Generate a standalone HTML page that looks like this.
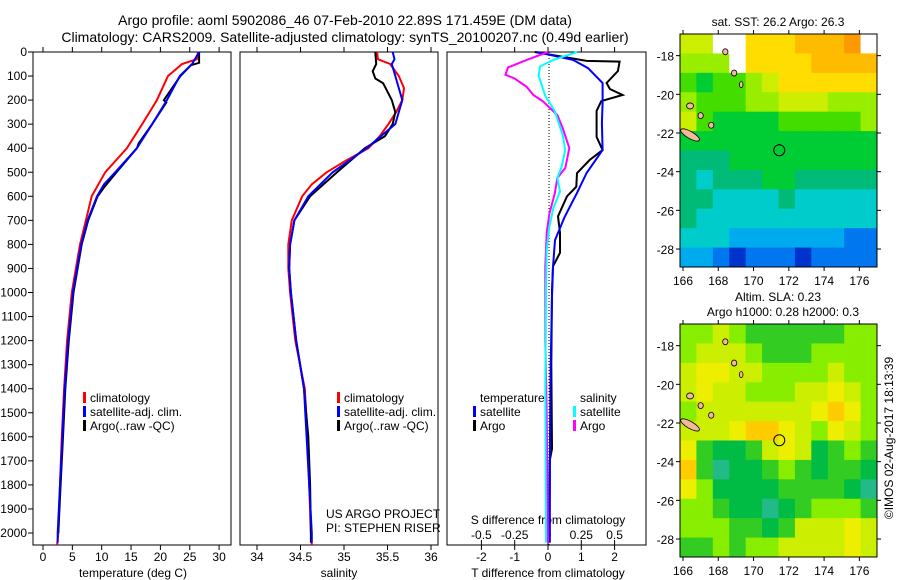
<!DOCTYPE html>
<html><head><meta charset="utf-8"><style>
body{margin:0;background:#fff;}
svg{display:block;font-family:"Liberation Sans",sans-serif;}
text{fill:#000;}
</style></head><body>
<svg id="chart" width="900" height="580" viewBox="0 0 900 580" xmlns="http://www.w3.org/2000/svg">
<text x="345" y="25" font-size="14" text-anchor="middle">Argo profile: aoml 5902086_46 07-Feb-2010 22.89S 171.459E (DM data)</text>
<text x="345" y="42" font-size="14" text-anchor="middle">Climatology: CARS2009. Satellite-adjusted climatology: synTS_20100207.nc (0.49d earlier)</text>
<g id="g"></g>
</svg>
<script>
// ---- data ----
const depthTicks=[0,100,200,300,400,500,600,700,800,900,1000,1100,1200,1300,1400,1500,1600,1700,1800,1900,2000];
const tempTicks=[0,5,10,15,20,25,30];
const salTicks=[34,34.5,35,35.5,36];
const tdTicks=[-2,-1,0,1,2];
const sdTicks=[-0.5,-0.25,0,0.25,0.5];
const sdTickLabels=["-0.5","-0.25","0","0.25","0.5"];

const tClimDepth=[0,30,50,100,200,300,400,500,600,700,800,900,1000,1200,1400,1600,1800,2000,2050];
const tClim=[26.4,26.2,23.7,21.3,19.4,16.9,14.3,10.6,8.3,7.3,6.3,5.6,4.9,4.1,3.6,3.2,2.9,2.6,2.4];
const tSatDepth=[0,50,100,200,300,400,500,550,600,700,800,900,1000,1200,1400,1600,1800,2000,2040];
const tSat=[26.6,25.4,23.3,21.1,18.6,16.0,12.3,10.4,9.2,7.6,6.5,5.8,5.1,4.3,3.7,3.3,2.9,2.5,2.5];
const tArgoDepth=[0,45,55,100,150,200,210,300,380,400,500,560,600,700,800,900,1000,1200,1400,1600,1800,2000];
const tArgo=[26.6,26.6,25.2,23.4,22.0,20.6,21.0,18.6,16.3,16.0,12.5,10.5,9.3,7.7,6.6,5.9,5.2,4.4,3.8,3.4,3.0,2.6];

const sClimDepth=[0,30,50,100,150,200,250,300,350,400,450,500,550,600,700,800,900,1000,1200,1400,1600,1800,2000,2050];
const sClim=[35.38,35.39,35.53,35.63,35.69,35.67,35.60,35.51,35.41,35.28,35.03,34.80,34.63,34.52,34.40,34.36,34.36,34.38,34.44,34.55,34.58,34.60,34.62,34.63];
const sSatDepth=[0,30,50,100,200,300,400,500,600,700,800,900,1000,1200,1400,1600,1800,2000,2040];
const sSat=[35.56,35.58,35.55,35.59,35.67,35.59,35.26,34.87,34.59,34.43,34.38,34.37,34.39,34.45,34.54,34.57,34.60,34.63,34.63];
const sArgoDepth=[0,50,80,110,130,200,250,300,350,400,500,600,700,800,900,1000,1200,1400,1600,1800,2000,2040];
const sArgo=[35.36,35.37,35.33,35.36,35.45,35.55,35.59,35.56,35.47,35.24,34.92,34.61,34.43,34.38,34.37,34.39,34.45,34.54,34.59,34.61,34.62,34.62];

const tdSatDepth=[0,33,67,129,212,295,407,503,586,686,782,893,1019,1300,1600,2040];
const tdSat=[-0.33,0.75,1.2,1.64,1.64,1.62,1.64,1.16,0.87,0.5,0.21,0.15,0.12,0.08,0.06,0.05];
const tdArgoDepth=[0,37,40,79,129,154,179,204,245,300,353,408,449,504,560,600,683,752,835,891,988,1300,1650,1700,2040];
const tdArgo=[-0.4,1.16,2.15,2.1,1.76,1.86,2.24,1.6,1.46,1.46,1.46,1.64,1.25,0.87,0.85,0.57,0.3,0.36,0.36,0.15,0.12,0.1,0.12,0.05,0.05];
const sdSatDepth=[0,33,60,100,183,245,345,408,482,524,580,650,727,823,988,1400,2040];
const sdSat=[0.22,0.04,-0.06,-0.07,-0.02,0.05,0.11,0.13,0.10,0.07,0.09,0.04,0.01,-0.01,-0.015,-0.02,-0.015];
const sdArgoDepth=[0,33,64,95,110,145,179,204,262,316,399,482,524,590,673,752,891,1200,1500,2040];
const sdArgo=[0,-0.16,-0.30,-0.32,-0.25,-0.16,-0.11,-0.04,0.07,0.11,0.16,0.13,0.07,0.05,0.01,-0.01,-0.02,-0.02,-0.01,0.0];

const sstGrid=[
[8,8,-1,-1,9,9,9,10,10,10,11,-1],
[7,7,7,-1,9,9,9,9,10,10,10,10],
[6,5,6,6,7,8,9,9,9,9,9,9],
[7,6,6,6,7,7,8,8,8,7,7,7],
[8,6,5,5,5,5,6,6,6,6,6,7],
[5,5,5,5,5,5,5,5,5,5,5,5],
[4,4,4,5,5,5,5,5,5,5,5,5],
[4,3,4,4,4,5,5,4,4,4,4,4],
[4,4,3,3,3,3,4,3,3,3,3,3],
[4,3,3,3,3,3,3,3,3,3,3,3],
[3,3,3,2,2,2,2,2,2,2,1,1],
[2,2,1,0,1,1,1,0,1,1,1,1]];
const slaGrid=[
[3,3,4,3,2,2,2,2,2,2,3,3],
[3,4,4,4,3,2,2,2,3,3,3,3],
[4,5,5,4,4,3,3,3,3,4,3,3],
[4,5,4,4,3,3,3,4,4,5,4,3],
[3,4,4,4,4,4,4,4,5,6,5,3],
[4,4,4,5,6,6,5,4,3,5,4,3],
[5,2,1,1,2,4,5,4,1,2,3,2],
[6,2,0,1,1,2,3,2,1,2,2,1],
[5,3,1,1,1,1,2,2,2,2,1,0],
[3,3,2,1,1,0,1,2,3,3,3,2],
[3,3,3,2,2,1,2,4,4,4,5,4],
[2,2,3,2,3,3,4,4,4,4,5,4]];
const lonTicks=[166,168,170,172,174,176];
const latTicks=[-18,-20,-22,-24,-26,-28];
const islandLon=[166.4,167.0,167.6,168.4,168.9,169.3,166.4];
const islandLat=[-20.6,-21.1,-21.6,-17.8,-18.9,-19.5,-22.1];
const islandRx=[0.2,0.15,0.15,0.15,0.15,0.1,0.6];
const argoLon=171.459, argoLat=-22.89;

// ---- drawing ----
const NS='http://www.w3.org/2000/svg';
const G=document.getElementById('g');
function el(tag,attrs,parent){const e=document.createElementNS(NS,tag);for(const k in attrs)e.setAttribute(k,attrs[k]);(parent||G).appendChild(e);return e;}
function txt(x,y,s,size,anchor,parent){const t=el('text',{x:x,y:y,'font-size':size||12,'text-anchor':anchor||'middle'},parent);t.textContent=s;return t;}
const TOP=52,BOT=545;
const dy=d=>TOP+d*0.2405;
function xs(lo,px0,scale){return v=>px0+(v-lo)*scale;}
const xT=xs(0,43,5.87), xS=xs(34,257,87), xTD=xs(0,548,33.3), xSD=xs(0,548,133.2);

function line(depths,vals,fx,color,w,name,parent){
  const pts=depths.map((d,i)=>fx(vals[i]).toFixed(1)+','+dy(d).toFixed(1)).join(' ');
  const p=el('polyline',{points:pts,fill:'none',stroke:color,'stroke-width':w},parent);
  
  
}
function panel(x0,x1,name){
  const g=el('g',{});
  
  
  el('rect',{x:x0,y:TOP,width:x1-x0,height:BOT-TOP,fill:'none',stroke:'#000','stroke-width':1},g);
  return g;
}
const p1=panel(33,231,'temperature-panel');
depthTicks.forEach(d=>{el('line',{x1:28,x2:33,y1:dy(d),y2:dy(d),stroke:'#000'},p1);const t=txt(27,dy(d)+4,String(d),12,'end',p1);});
tempTicks.forEach(v=>{el('line',{x1:xT(v),x2:xT(v),y1:BOT,y2:BOT+5,stroke:'#000'},p1);el('line',{x1:xT(v),x2:xT(v),y1:TOP,y2:TOP-5,stroke:'#000'},p1);txt(xT(v),561,String(v),12,'middle',p1);});
const xl1=txt(133,577,'temperature (deg C)',12,'middle',p1);
line(tClimDepth,tClim,xT,'#ff0000',2,'temp-climatology-line',p1);
line(tArgoDepth,tArgo,xT,'#000000',2,'temp-argo-line',p1);
line(tSatDepth,tSat,xT,'#0000ff',2,'temp-satellite-line',p1);
const p2=panel(240,438,'salinity-panel');
salTicks.forEach(v=>{el('line',{x1:xS(v),x2:xS(v),y1:BOT,y2:BOT+5,stroke:'#000'},p2);el('line',{x1:xS(v),x2:xS(v),y1:TOP,y2:TOP-5,stroke:'#000'},p2);txt(xS(v),561,String(v),12,'middle',p2);});
const xl2=txt(339,577,'salinity',12,'middle',p2);
line(sClimDepth,sClim,xS,'#ff0000',2,'sal-climatology-line',p2);
line(sArgoDepth,sArgo,xS,'#000000',2,'sal-argo-line',p2);
line(sSatDepth,sSat,xS,'#0000ff',2,'sal-satellite-line',p2);
txt(326,518,'US ARGO PROJECT',12,'start',p2);
txt(326,532,'PI: STEPHEN RISER',12,'start',p2);
function legend(x,y,items,parent,name){
  const g=el('g',{},parent);
  
  
  items.forEach((it,i)=>{ if(it[1]) el('rect',{x:x,y:y+i*14-10,width:3,height:11,fill:it[1]},g); txt(x+7,y+i*14,it[0],12,'start',g);});
}
legend(83,402,[['climatology','#ff0000'],['satellite-adj. clim.','#0000ff'],['Argo(..raw -QC)','#000']],p1,'legend-temperature');
legend(337,402,[['climatology','#ff0000'],['satellite-adj. clim.','#0000ff'],['Argo(..raw -QC)','#000']],p2,'legend-salinity');
const p3=panel(447,646,'difference-panel');
for(let y=TOP;y<BOT;y+=3) el('rect',{x:548.5,y:y,width:1,height:1,fill:'#000'},p3);
tdTicks.forEach(v=>{el('line',{x1:xTD(v),x2:xTD(v),y1:BOT,y2:BOT+5,stroke:'#000'},p3);el('line',{x1:xTD(v),x2:xTD(v),y1:TOP,y2:TOP-5,stroke:'#000'},p3);txt(xTD(v),561,String(v),12,'middle',p3);});
sdTicks.forEach((v,i)=>{el('line',{x1:xSD(v),x2:xSD(v),y1:BOT,y2:BOT-5,stroke:'#000'},p3);txt(xSD(v),539,sdTickLabels[i],12,'middle',p3);});
txt(548,524,'S difference from climatology',12,'middle',p3);
const xl3=txt(548,577,'T difference from climatology',12,'middle',p3);
line(tdArgoDepth,tdArgo,xTD,'#000000',2,'tdiff-argo-line',p3);
line(tdSatDepth,tdSat,xTD,'#0000ff',2,'tdiff-satellite-line',p3);
line(sdArgoDepth,sdArgo,xSD,'#ff00ff',2,'sdiff-argo-line',p3);
line(sdSatDepth,sdSat,xSD,'#00ffff',2,'sdiff-satellite-line',p3);
legend(473,402,[['temperature',null],['satellite','#0000ff'],['Argo','#000']],p3,'legend-diff-temperature');
legend(573,402,[['salinity',null],['satellite','#00ffff'],['Argo','#ff00ff']],p3,'legend-diff-salinity');

const sstPal=['#0033cc','#0077ee','#00aaee','#00cccc','#00bb77','#00cc33','#44dd00','#99ee00','#ccee00','#ffdd00','#ffbb00','#ff9900'];
const slaPal=['#22bb88','#00bb44','#33cc22','#88ee00','#ccee00','#eeee00','#ffcc00','#ffaa00'];
function map(top,grid,pal,name){
  const X0=680,X1=877,Y1=top+233;
  const g=el('g',{});
  
  
  const lon=v=>X0+(v-165.83)*(X1-X0)/(177.0-165.83);
  const lat=v=>top+(-16.88-v)*(Y1-top)/(28.93-16.88);
  const nr=grid.length,nc=grid[0].length,cw=(X1-X0)/nc,ch=(Y1-top)/nr;
  grid.forEach((row,r)=>row.forEach((c,k)=>{
    el('rect',{x:X0+k*cw,y:top+r*ch,width:cw+0.5,height:ch+0.5,fill:c<0?'#ffffff':pal[c]},g);
  }));
  islandLon.forEach((lo,i)=>{const cx=lon(islandLon[i]),cy=lat(islandLat[i]);el('ellipse',{cx:cx,cy:cy,rx:islandRx[i]*17.7,ry:i==6?3.5:3,fill:'#f4b89a',stroke:'#000','stroke-width':0.8,transform:i==6?`rotate(30 ${cx} ${cy})`:''},g);});
  el('rect',{x:X0,y:top,width:X1-X0,height:Y1-top,fill:'none',stroke:'#000'},g);
  const c=el('circle',{cx:lon(argoLon),cy:lat(argoLat),r:5.5,fill:'none',stroke:'#000','stroke-width':1},g);
  
  
  lonTicks.forEach(v=>{el('line',{x1:lon(v),x2:lon(v),y1:top,y2:top-4,stroke:'#000'},g);el('line',{x1:lon(v),x2:lon(v),y1:Y1,y2:Y1+4,stroke:'#000'},g);txt(lon(v),Y1+18,String(v),12,'middle',g);});
  latTicks.forEach(v=>{el('line',{x1:X0,x2:X0-4,y1:lat(v),y2:lat(v),stroke:'#000'},g);el('line',{x1:X1,x2:X1+4,y1:lat(v),y2:lat(v),stroke:'#000'},g);txt(674,lat(v)+5,String(v),12,'end',g);});
  return g;
}
const m1=map(34,sstGrid,sstPal,'sst-map');
const m2=map(324,slaGrid,slaPal,'sla-map');
txt(778,26,'sat. SST: 26.2 Argo: 26.3',12,'middle',m1);
txt(778,301,'Altim. SLA: 0.23',12,'middle',m2);
txt(783,316,'Argo h1000: 0.28 h2000: 0.3',12,'middle',m2);
const cp=txt(0,0,'©IMOS 02-Aug-2017 18:13:39',12,'middle');
cp.setAttribute('transform','translate(893,438) rotate(-90)');


</script>
</body></html>
